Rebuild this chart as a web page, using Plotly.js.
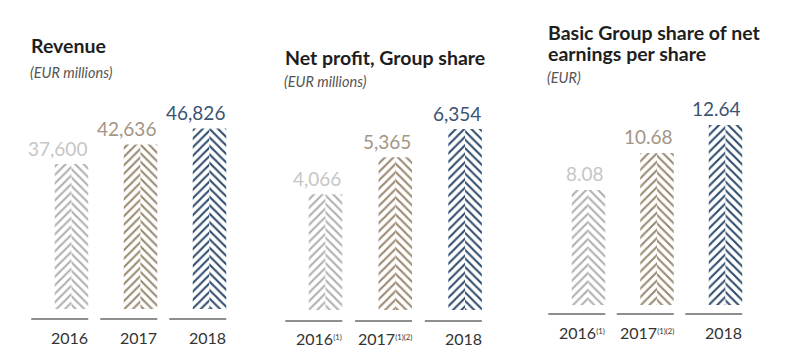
<!DOCTYPE html>
<html>
<head>
<meta charset="utf-8">
<script src="https://cdn.plot.ly/plotly-3.0.1.min.js"></script>
<style>html,body{margin:0;padding:0;background:#fff;}#chart{width:803px;height:363px;}</style>
</head>
<body>
<div id="chart"></div>
<script>
// ---- data ----
const years = ['2016', '2017', '2018'];
const revenue = [37600, 42636, 46826];
const netProfit = [4066, 5365, 6354];
const eps = [8.08, 10.68, 12.64];
const revenueLabels = ['37,600', '42,636', '46,826'];
const profitLabels = ['4,066', '5,365', '6,354'];
const epsLabels = ['8.08', '10.68', '12.64'];
const yearLabels1 = ['2016', '2017', '2018'];
const yearNotes2 = ['(1)', '(1)(2)', ''];
const yearNotes3 = ['(1)', '(1)(2)', ''];
const titles = [['Revenue'], ['Net profit, Group share'], ['Basic Group share of net', 'earnings per share']];
const subtitles = ['(EUR millions)', '(EUR millions)', '(EUR)'];

// ---- style ----
const barColors = ['#b0b0b0', '#9a8972', '#2f4c6d'];
const valueColors = ['#c6c6c6', '#a49584', '#3b5473'];
const W = 803, H = 363;
const geom = [
  {c0: 71.5, u: 69, k: 145 / 37600, yb: 309, yl: 319, top: 100, titleY: [46], subY: 72, tx: 31, yearY: 337, shift: 16},
  {c0: 325.5, u: 69.8, k: 181 / 6354, yb: 310, yl: 321, top: 100, titleY: [57], subY: 81, tx: 285, yearY: 338, shift: 16},
  {c0: 588.5, u: 68.5, k: 152 / 10.68, yb: 305, yl: 314, top: 95, titleY: [32, 53], subY: 78, tx: 548, yearY: 332, shift: 17}
];
function withNotes(notes) {
  return years.map((y, i) => notes[i] ? y + '<span style="font-size:11px"><sup>' + notes[i] + '</sup></span>' : y);
}
const panels = [
  {vals: revenue, labels: revenueLabels, years: yearLabels1},
  {vals: netProfit, labels: profitLabels, years: withNotes(yearNotes2)},
  {vals: eps, labels: epsLabels, years: withNotes(yearNotes3)}
];
const barPx = 33.5, segPx = 57;
const font = 'Lato, "Open Sans", sans-serif';

const data = [], annotations = [], shapes = [];
const layout = {
  width: W, height: H, margin: {l: 0, r: 0, t: 0, b: 0},
  paper_bgcolor: '#fff', plot_bgcolor: '#fff', showlegend: false, hovermode: false,
  annotations: annotations, shapes: shapes
};

panels.forEach((p, pi) => {
  const g = geom[pi];
  const n = pi === 0 ? '' : String(pi + 1);
  const xa = 'x' + n, ya = 'y' + n;
  const hw = (barPx / 2) / g.u;
  const xs = years.map((_, i) => i);
  const L = g.c0 - g.u, R = g.c0 + 2.6 * g.u;
  layout['xaxis' + n] = {
    domain: [L / W, R / W], range: [-1, 2.6], showgrid: false, zeroline: false,
    showticklabels: false, showline: false, ticks: '', fixedrange: true, anchor: ya
  };
  const yMin = -(g.yl - g.yb) / g.k, yMax = (g.yl - g.top) / g.k - (g.yl - g.yb) / g.k;
  layout['yaxis' + n] = {
    domain: [(H - g.yl) / H, (H - g.top) / H], range: [yMin, yMax], showgrid: false,
    zeroline: false, showticklabels: false, showline: false, ticks: '', fixedrange: true, anchor: xa
  };
  ['/', '\\'].forEach((shape, si) => {
    data.push({
      type: 'bar', x: xs, y: p.vals, xaxis: xa, yaxis: ya,
      width: hw, offset: si === 0 ? -hw : 0,
      marker: {
        color: '#ffffff', line: {width: 0},
        pattern: {shape: shape, fgcolor: barColors, bgcolor: '#ffffff', size: 6, solidity: 0.35, fillmode: 'replace'}
      },
      hoverinfo: 'skip'
    });
  });
  xs.forEach(i => {
    shapes.push({
      type: 'line', xref: xa, yref: ya + ' domain',
      x0: i + hw - segPx / g.u, x1: i + hw, y0: 0, y1: 0,
      line: {color: '#8e8e8e', width: 2}
    });
    annotations.push({
      xref: xa, yref: ya, x: i + hw + 1 / g.u, y: p.vals[i], xanchor: 'right', yanchor: 'middle',
      yshift: g.shift, text: p.labels[i], showarrow: false,
      font: {family: font, size: 19, color: valueColors[i]}
    });
    annotations.push({
      xref: xa, yref: 'paper', x: i + hw + 2 / g.u, y: (H - g.yearY) / H, xanchor: 'right', yanchor: 'middle',
      text: p.years[i], showarrow: false,
      font: {family: font, size: 16, color: '#333333'}
    });
  });
  titles[pi].forEach((t, ti) => {
    annotations.push({
      xref: 'paper', yref: 'paper', x: (g.tx - 2) / W, y: (H - g.titleY[ti]) / H, xanchor: 'left', yanchor: 'middle',
      text: '<b>' + t + '</b>', showarrow: false,
      font: {family: font, size: 19.5, color: '#1e1e1e'}
    });
  });
  annotations.push({
    xref: 'paper', yref: 'paper', x: (g.tx - 3) / W, y: (H - g.subY) / H, xanchor: 'left', yanchor: 'middle',
    text: '<i>' + subtitles[pi] + '</i>', showarrow: false,
    font: {family: font, size: 14.5, color: '#555555'}
  });
});

Plotly.newPlot('chart', data, layout, {displayModeBar: false, staticPlot: true});
</script>
</body>
</html>
